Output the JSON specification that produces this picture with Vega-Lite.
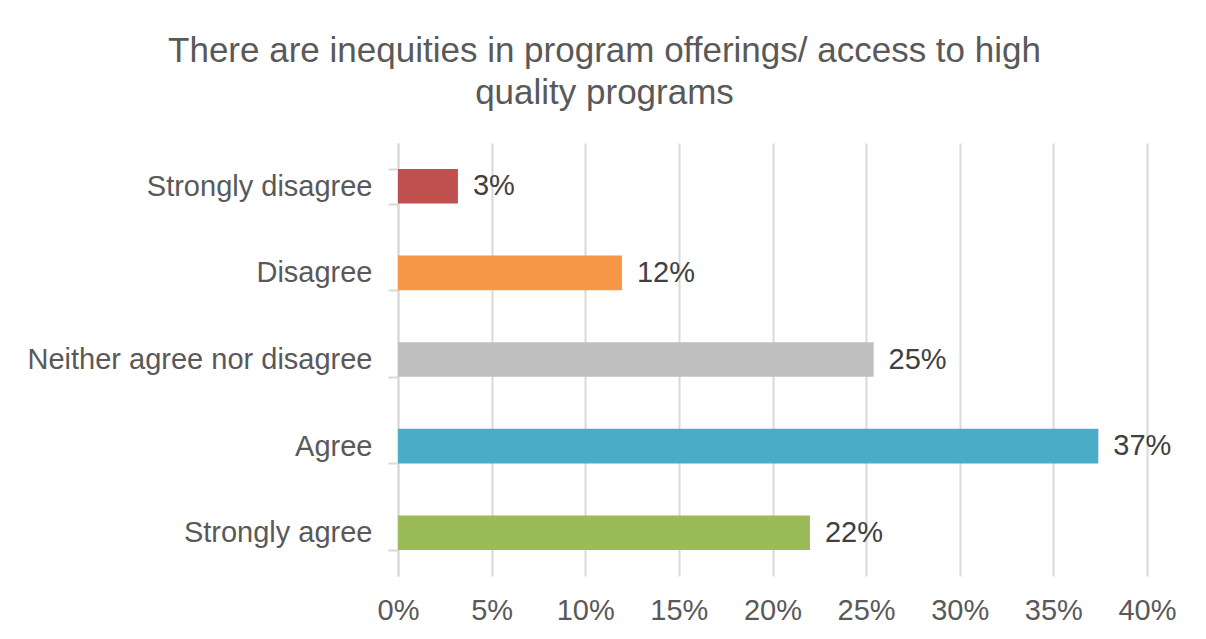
{
  "$schema": "https://vega.github.io/schema/vega-lite/v6.json",
  "autosize": {"type": "none"},
  "width": 749,
  "height": 433,
  "padding": {"left": 398, "top": 143, "right": 59, "bottom": 63},
  "background": "white",
  "title": {
    "text": ["There are inequities in program offerings/ access to high", "quality programs"],
    "font": "Liberation Sans",
    "fontSize": 35,
    "fontWeight": "normal",
    "color": "#595959",
    "anchor": "middle",
    "dx": -168,
    "dy": 47,
    "lineHeight": 42,
    "baseline": "bottom",
    "offset": 30
  },
  "data": {
    "values": [
      {"response": "Strongly disagree", "share": 0.032},
      {"response": "Disagree", "share": 0.1196},
      {"response": "Neither agree nor disagree", "share": 0.254},
      {"response": "Agree", "share": 0.374},
      {"response": "Strongly agree", "share": 0.22}
    ]
  },
  "encoding": {
    "y": {
      "field": "response",
      "type": "nominal",
      "sort": null,
      "scale": {"paddingInner": 0.6, "paddingOuter": 0.3},
      "axis": {
        "title": null,
        "labelFont": "Liberation Sans",
        "labelFontSize": 29,
        "labelColor": "#595959",
        "labelPadding": 16,
        "labelLimit": 0,
        "domainColor": "#d9d9d9",
        "domainWidth": 2,
        "tickColor": "#d9d9d9",
        "tickWidth": 2,
        "tickSize": 10,
        "tickBand": "extent",
        "grid": false
      }
    },
    "x": {
      "field": "share",
      "type": "quantitative",
      "scale": {"domain": [0, 0.4], "nice": false},
      "axis": {
        "title": null,
        "values": [0, 0.05, 0.1, 0.15, 0.2, 0.25, 0.3, 0.35, 0.4],
        "format": ".0%",
        "labelFont": "Liberation Sans",
        "labelFontSize": 29,
        "labelColor": "#595959",
        "labelPadding": 20,
        "labelFlush": false,
        "labelOverlap": false,
        "domain": false,
        "ticks": false,
        "tickSize": 0,
        "grid": true,
        "gridColor": "#d9d9d9",
        "gridWidth": 2
      }
    }
  },
  "layer": [
    {
      "mark": {"type": "bar"},
      "encoding": {
        "color": {
          "field": "response",
          "type": "nominal",
          "legend": null,
          "scale": {
            "domain": ["Strongly disagree", "Disagree", "Neither agree nor disagree", "Agree", "Strongly agree"],
            "range": ["#C0504D", "#F79646", "#BFBFBF", "#4BACC6", "#9BBB59"]
          }
        }
      }
    },
    {
      "mark": {"type": "text", "align": "left", "baseline": "middle", "dx": 15, "font": "Liberation Sans", "fontSize": 29, "color": "#404040"},
      "encoding": {
        "text": {"field": "share", "type": "quantitative", "format": ".0%"}
      }
    }
  ],
  "config": {"view": {"stroke": null}}
}
